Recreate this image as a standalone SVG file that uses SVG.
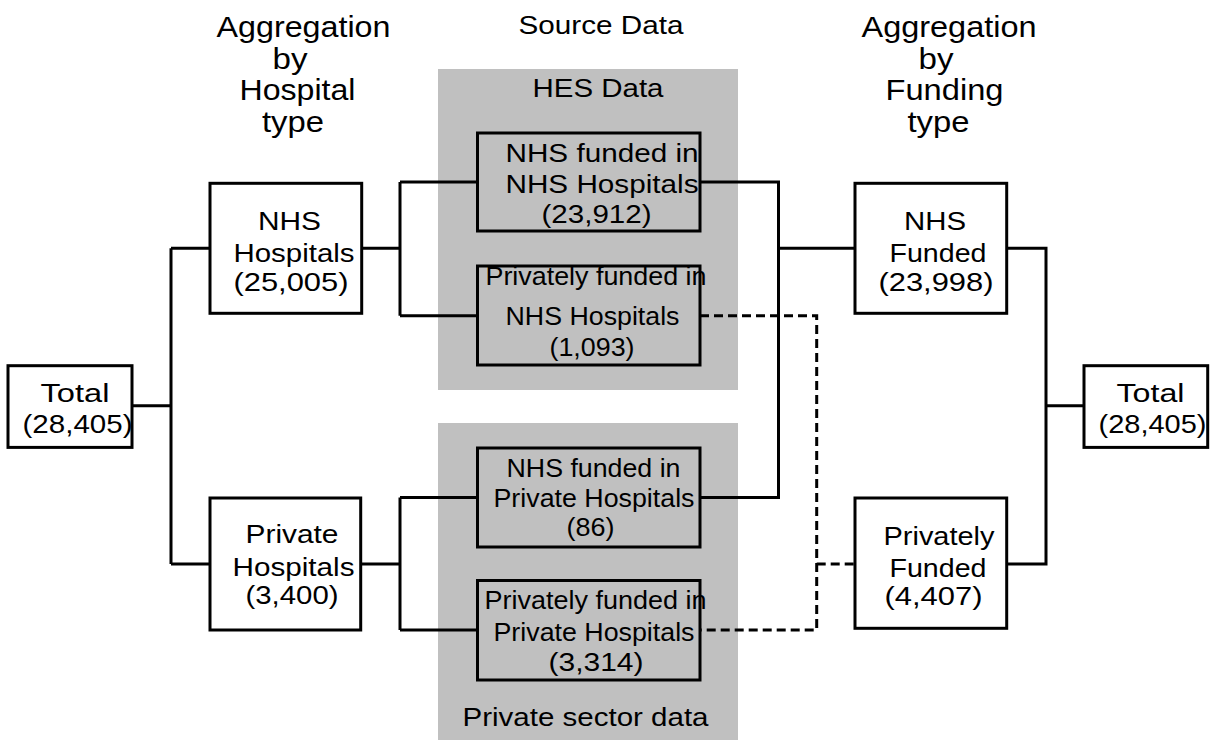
<svg xmlns="http://www.w3.org/2000/svg" width="1210" height="740" viewBox="0 0 1210 740">
<style>
.t{font-family:"Liberation Sans",Arial,sans-serif;font-size:26.5px;text-anchor:middle;fill:#000}
.h{font-family:"Liberation Sans",Arial,sans-serif;font-size:30px;text-anchor:middle;fill:#000}
.box{fill:#fff;stroke:#000;stroke-width:3}
.ibox{fill:#c0c0c0;stroke:#000;stroke-width:3}
.grp{fill:#c0c0c0;stroke:none}
.ln{fill:none;stroke:#000;stroke-width:3}
.dash{fill:none;stroke:#000;stroke-width:3;stroke-dasharray:9 5}
</style>
<rect width="1210" height="740" fill="#fff"/>
<g id="headings">
<text class="h" x="303.5" y="37" textLength="174" lengthAdjust="spacingAndGlyphs">Aggregation</text>
<text class="h" x="290" y="69" textLength="35" lengthAdjust="spacingAndGlyphs">by</text>
<text class="h" x="297.5" y="100" textLength="116" lengthAdjust="spacingAndGlyphs">Hospital</text>
<text class="h" x="293" y="132" textLength="62" lengthAdjust="spacingAndGlyphs">type</text>
<text class="t" x="601" y="34" textLength="165" lengthAdjust="spacingAndGlyphs">Source Data</text>
<text class="h" x="949" y="37" textLength="175" lengthAdjust="spacingAndGlyphs">Aggregation</text>
<text class="h" x="936" y="69" textLength="35" lengthAdjust="spacingAndGlyphs">by</text>
<text class="h" x="944.5" y="100" textLength="118" lengthAdjust="spacingAndGlyphs">Funding</text>
<text class="h" x="938.5" y="132" textLength="62" lengthAdjust="spacingAndGlyphs">type</text>
</g>
<g id="hes-data">
<rect class="grp" x="438" y="69" width="300" height="321"/>
<text class="t" x="598" y="97" textLength="131" lengthAdjust="spacingAndGlyphs">HES Data</text>
</g>
<g id="private-sector-data">
<rect class="grp" x="438" y="423" width="300" height="317"/>
<text class="t" x="585.5" y="726" textLength="246" lengthAdjust="spacingAndGlyphs">Private sector data</text>
</g>
<g id="connectors">
<path class="ln" d="M132,405.7 H171 M171,248.3 V564 M171,248.3 H210 M171,564 H210"/>
<path class="ln" d="M361.7,248.3 H400 M400,182 V315.7 M400,182 H477.5 M400,315.7 H477.5"/>
<path class="ln" d="M360.7,564 H400 M400,497.5 V630 M400,497.5 H477.5 M400,630 H477.5"/>
<path class="ln" d="M700,182 H778.5 V497.5 H700 M778.5,248.3 H855"/>
<path class="ln" d="M1006.7,248.3 H1046 V564 H1006.7 M1046,405.7 H1084"/>
<path class="dash" d="M700,315.7 H816.7 V630 H700"/>
<path class="dash" d="M816.7,564 H855"/>
</g>
<g id="total-left">
<rect class="box" x="8" y="365.7" width="124" height="81.7"/>
<text class="t" x="75" y="402" textLength="69" lengthAdjust="spacingAndGlyphs">Total</text>
<text class="t" x="77.5" y="433" textLength="110" lengthAdjust="spacingAndGlyphs">(28,405)</text>
</g>
<g id="nhs-hospitals">
<rect class="box" x="210" y="183.3" width="151.7" height="130"/>
<text class="t" x="289.5" y="230" textLength="63" lengthAdjust="spacingAndGlyphs">NHS</text>
<text class="t" x="294" y="262" textLength="121" lengthAdjust="spacingAndGlyphs">Hospitals</text>
<text class="t" x="291" y="291" textLength="115" lengthAdjust="spacingAndGlyphs">(25,005)</text>
</g>
<g id="private-hospitals">
<rect class="box" x="210" y="498" width="150.7" height="132"/>
<text class="t" x="292" y="543" textLength="93" lengthAdjust="spacingAndGlyphs">Private</text>
<text class="t" x="293.5" y="576" textLength="122" lengthAdjust="spacingAndGlyphs">Hospitals</text>
<text class="t" x="292" y="604" textLength="93" lengthAdjust="spacingAndGlyphs">(3,400)</text>
</g>
<g id="nhs-funded-nhs-hospitals">
<rect class="ibox" x="477.5" y="133" width="222.5" height="98"/>
<text class="t" x="602" y="162" textLength="193" lengthAdjust="spacingAndGlyphs">NHS funded in</text>
<text class="t" x="602" y="193" textLength="193" lengthAdjust="spacingAndGlyphs">NHS Hospitals</text>
<text class="t" x="596.5" y="223" textLength="110" lengthAdjust="spacingAndGlyphs">(23,912)</text>
</g>
<g id="private-funded-nhs-hospitals">
<rect class="ibox" x="477.5" y="266" width="222.5" height="99"/>
<text class="t" x="596" y="285" textLength="221" lengthAdjust="spacingAndGlyphs">Privately funded in</text>
<text class="t" x="592.5" y="325" textLength="174" lengthAdjust="spacingAndGlyphs">NHS Hospitals</text>
<text class="t" x="592" y="356" textLength="85" lengthAdjust="spacingAndGlyphs">(1,093)</text>
</g>
<g id="nhs-funded-private-hospitals">
<rect class="ibox" x="477.5" y="448" width="222.5" height="99"/>
<text class="t" x="593.5" y="477" textLength="174" lengthAdjust="spacingAndGlyphs">NHS funded in</text>
<text class="t" x="594" y="507" textLength="201" lengthAdjust="spacingAndGlyphs">Private Hospitals</text>
<text class="t" x="590.5" y="536" textLength="48" lengthAdjust="spacingAndGlyphs">(86)</text>
</g>
<g id="private-funded-private-hospitals">
<rect class="ibox" x="477.5" y="580.5" width="222.5" height="99.5"/>
<text class="t" x="595.5" y="609" textLength="222" lengthAdjust="spacingAndGlyphs">Privately funded in</text>
<text class="t" x="594" y="641" textLength="201" lengthAdjust="spacingAndGlyphs">Private Hospitals</text>
<text class="t" x="596" y="670.5" textLength="95" lengthAdjust="spacingAndGlyphs">(3,314)</text>
</g>
<g id="nhs-funded">
<rect class="box" x="855" y="183.3" width="151.7" height="130"/>
<text class="t" x="935" y="230" textLength="62" lengthAdjust="spacingAndGlyphs">NHS</text>
<text class="t" x="938" y="262" textLength="97" lengthAdjust="spacingAndGlyphs">Funded</text>
<text class="t" x="936" y="291" textLength="115" lengthAdjust="spacingAndGlyphs">(23,998)</text>
</g>
<g id="privately-funded">
<rect class="box" x="855" y="498" width="151.7" height="130.3"/>
<text class="t" x="939" y="545" textLength="111" lengthAdjust="spacingAndGlyphs">Privately</text>
<text class="t" x="938" y="577" textLength="97" lengthAdjust="spacingAndGlyphs">Funded</text>
<text class="t" x="933.5" y="605" textLength="98" lengthAdjust="spacingAndGlyphs">(4,407)</text>
</g>
<g id="total-right">
<rect class="box" x="1084" y="365.7" width="123.7" height="81.7"/>
<text class="t" x="1150.5" y="402" textLength="68" lengthAdjust="spacingAndGlyphs">Total</text>
<text class="t" x="1152.5" y="433" textLength="108" lengthAdjust="spacingAndGlyphs">(28,405)</text>
</g>
</svg>
